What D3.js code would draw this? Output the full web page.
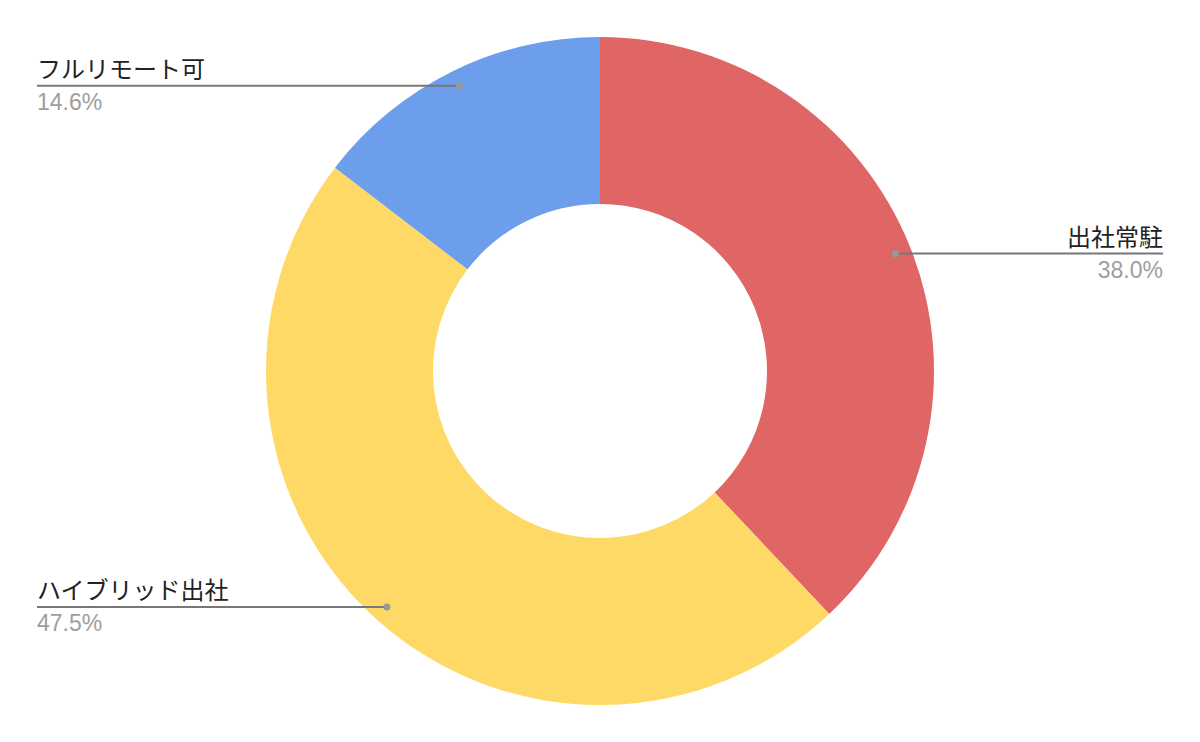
<!DOCTYPE html>
<html><head><meta charset="utf-8">
<script src="https://cdn.jsdelivr.net/npm/d3@7"></script>
<style>body{margin:0;background:#fff}svg{display:block}</style>
</head><body>
<svg id="chart" width="1200" height="742"></svg>
<script>
const categories = ["出社常駐", "ハイブリッド出社", "フルリモート可"];
const values = [38.0, 47.5, 14.6];
const percentLabels = ["38.0%", "47.5%", "14.6%"];
const colors = ["#E06666", "#FFD966", "#6D9EEB"];

const W = 1200, H = 742;
const cx = 600, cy = 371, outerR = 334, innerR = 167, dotR = 318;
const svg = d3.select("#chart");
svg.append("rect").attr("width", W).attr("height", H).attr("fill", "#fff");
const g = svg.append("g").attr("transform", `translate(${cx},${cy})`);

const data = categories.map((c, i) => ({name: c, value: values[i], label: percentLabels[i], color: colors[i]}));
const pie = d3.pie().value(d => d.value).sort(null);
const arcs = pie(data);
const arc = d3.arc().innerRadius(innerR).outerRadius(outerR);

g.selectAll("path.slice").data(arcs).join("path")
  .attr("class", "slice")
  .attr("d", arc)
  .attr("fill", d => d.data.color);

const fontFamily = "'Liberation Sans', Arial, 'Noto Sans CJK JP', sans-serif";
arcs.forEach(a => {
  const mid = (a.startAngle + a.endAngle) / 2;
  const x = cx + dotR * Math.sin(mid);
  const y = cy - dotR * Math.cos(mid);
  const right = Math.sin(mid) > 0;
  const xEnd = right ? 1163 : 37;
  svg.append("line").attr("x1", x).attr("y1", y).attr("x2", xEnd).attr("y2", y)
    .attr("stroke", "#777").attr("stroke-width", 2);
  svg.append("circle").attr("cx", x).attr("cy", y).attr("r", 3.5).attr("fill", "#999");
  svg.append("text").attr("x", xEnd).attr("y", y - 8)
    .attr("text-anchor", right ? "end" : "start")
    .attr("font-family", "'Noto Sans CJK JP', sans-serif").attr("font-size", 24)
    .attr("fill", "#222").text(a.data.name);
  svg.append("text").attr("x", xEnd).attr("y", y + 24)
    .attr("text-anchor", right ? "end" : "start")
    .attr("font-family", fontFamily).attr("font-size", 23)
    .attr("fill", "#9e9e9e").text(a.data.label);
});
</script>
</body></html>
